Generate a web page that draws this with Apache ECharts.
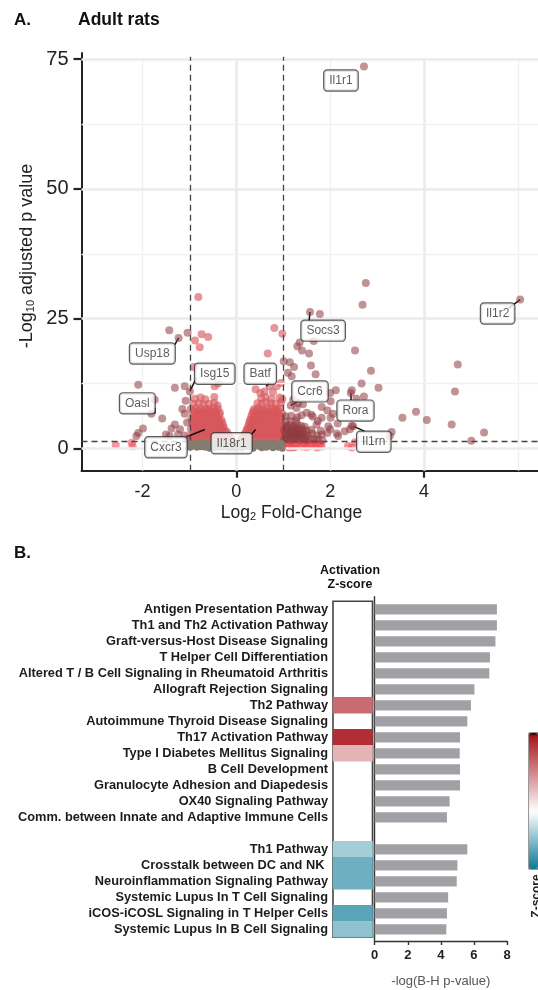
<!DOCTYPE html>
<html><head><meta charset="utf-8">
<style>html,body{margin:0;padding:0;background:#fff}#c{width:538px;height:990px}</style>
<script src="https://cdn.jsdelivr.net/npm/echarts@6/dist/echarts.min.js"></script>
</head><body><div id="c"></div>
<script>
// ---------- Panel A data (log2FC, -log10 p) ----------
const greyPts=[[-0.96,0.3],[-0.9,0.9],[-0.84,0.2],[-0.78,0.7],[-0.72,1.1],[-0.66,0.2],[-0.6,0.6],[-0.54,1.0],[-0.48,0.1],[-0.42,0.5],[-0.36,1.1],[-0.3,0.2],[-0.24,0.7],[-0.18,0.1],[-0.12,1.0],[-0.06,0.4],[0,0.0],[0.06,0.6],[0.12,0.1],[0.18,1.1],[0.24,0.3],[0.3,0.8],[0.36,0.0],[0.42,1.0],[0.48,0.4],[0.54,0.1],[0.6,0.9],[0.66,0.3],[0.72,1.1],[0.78,0.1],[0.84,0.7],[0.9,0.2],[0.96,1.0],[-0.93,0.6],[-0.81,1.1],[-0.69,0.7],[-0.57,0.0],[-0.45,0.9],[-0.33,0.6],[-0.21,1.2],[-0.09,0.1],[0.03,1.1],[0.09,0.4],[0.21,0.6],[0.33,0.3],[0.45,0.8],[0.57,0.5],[0.69,0.7],[0.81,0.4],[0.93,0.5],[0.98,0.0],
[-0.98,0.9],[-0.87,0.5],[-0.75,0.3],[-0.63,1.0],[-0.51,0.5],[-0.39,0.2],[-0.27,1.0],[-0.15,0.6],[-0.03,0.9],[0.15,0.8],[0.27,1.1],[0.39,0.6],[0.51,1.0],[0.63,0.2],[0.75,0.9],[0.87,1.0],[-0.99,0.2],[0.99,0.6]];
const lightPts=[[-2.57,0.65],[-2.21,0.45],[-2.23,1.1],[1.02,0.5],[1.05,1.2],[1.12,0.2],[1.18,0.9],[1.25,0.3],[1.3,1.1],[1.38,0.6],[1.45,0.9],[1.5,0.3],[1.55,1.1],[1.62,0.7],[1.7,0.5],[1.76,0.9],[1.82,0.4],[2.38,0.5],[2.53,1.2],[2.46,0.2],[1.08,0.8],[1.22,0.7],
[1.03,1.0],[1.09,0.4],[1.15,1.2],[1.2,0.2],[1.28,0.8],[1.34,1.2],[1.41,0.4],[1.48,1.1],[1.58,0.5],[1.66,1.0],[1.72,0.2],[1.79,0.7]];
const centerPts=[
[-0.97,1.7],[-0.88,1.9],[-0.79,1.6],[-0.7,1.8],[-0.61,1.7],[-0.52,1.9],[-0.43,1.6],[-0.34,1.8],[-0.25,1.7],[-0.16,1.6],[-0.08,1.5],
[-0.95,2.7],[-0.85,2.6],[-0.76,2.8],[-0.66,2.7],[-0.58,2.9],[-0.48,2.6],[-0.4,2.8],[-0.3,2.7],[-0.21,2.5],[-0.13,2.2],
[-0.97,3.7],[-0.87,3.9],[-0.78,3.6],[-0.69,3.8],[-0.6,3.7],[-0.5,3.9],[-0.41,3.6],[-0.33,3.8],[-0.24,3.4],
[-0.94,4.7],[-0.85,4.6],[-0.75,4.9],[-0.66,4.7],[-0.56,4.8],[-0.47,4.6],[-0.38,4.8],[-0.28,4.4],
[-0.96,5.7],[-0.87,5.9],[-0.77,5.6],[-0.68,5.8],[-0.59,5.7],[-0.5,5.9],[-0.4,5.6],[-0.32,5.5],
[-0.93,6.7],[-0.83,6.6],[-0.73,6.9],[-0.64,6.7],[-0.55,6.8],[-0.45,6.6],[-0.36,6.4],
[-0.97,7.6],[-0.86,7.8],[-0.77,7.5],[-0.66,7.7],[-0.58,7.6],[-0.48,7.8],[-0.39,7.6],
[-0.92,8.6],[-0.8,8.7],[-0.7,8.5],[-0.58,8.6],[-0.47,8.8],
[-0.88,9.6],[-0.76,9.8],[-0.66,9.5],[-0.47,9.9],[-0.81,29.2],[-0.74,22],[-0.6,21.5],[-0.88,20.8],[-0.78,19.5],[-0.91,15.7],[-0.46,12],[-0.39,12.5],
[-0.92,2.2],[-0.82,2.3],[-0.73,2.2],[-0.63,2.3],[-0.54,2.2],[-0.45,2.3],[-0.35,2.2],[-0.26,2.2],[-0.18,2.0],
[-0.91,3.2],[-0.82,3.2],[-0.73,3.3],[-0.64,3.2],[-0.55,3.3],[-0.46,3.2],[-0.37,3.2],[-0.28,3.1],
[-0.9,4.2],[-0.8,4.2],[-0.71,4.3],[-0.61,4.2],[-0.52,4.3],[-0.43,4.2],[-0.34,4.2],
[-0.91,5.2],[-0.81,5.2],[-0.71,5.3],[-0.63,5.2],[-0.54,5.3],[-0.44,5.2],[-0.36,5.0],
[-0.89,6.2],[-0.79,6.2],[-0.7,6.3],[-0.6,6.2],[-0.5,6.3],[-0.41,6.1],
[-0.9,7.2],[-0.8,7.2],[-0.7,7.1],[-0.61,7.2],[-0.52,7.2],[-0.43,7.1],
[-0.05,1.6],[-0.12,1.9],[-0.16,2.6],[-0.2,3.2],[-0.27,4.0],[-0.3,5.0],[-0.35,6.9],[-0.4,8.3],
[0.1,1.7],[0.18,1.6],[0.27,1.8],[0.36,1.7],[0.45,1.9],[0.54,1.6],[0.63,1.8],[0.72,1.7],[0.81,1.9],[0.9,1.6],[0.98,1.8],
[0.17,2.7],[0.26,2.6],[0.35,2.8],[0.44,2.7],[0.53,2.9],[0.62,2.6],[0.71,2.8],[0.8,2.7],[0.89,2.6],[0.97,2.8],
[0.24,3.7],[0.32,3.8],[0.41,3.6],[0.5,3.8],[0.6,3.7],[0.69,3.9],[0.78,3.6],[0.87,3.8],[0.96,3.7],
[0.27,4.7],[0.36,4.6],[0.45,4.8],[0.55,4.7],[0.64,4.9],[0.73,4.6],[0.82,4.8],[0.91,4.7],[0.99,4.6],
[0.3,5.6],[0.39,5.8],[0.48,5.7],[0.57,5.6],[0.66,5.8],[0.76,5.7],[0.85,5.9],[0.94,5.6],
[0.34,6.7],[0.43,6.6],[0.52,6.8],[0.61,6.7],[0.7,6.9],[0.8,6.6],[0.89,6.8],[0.98,6.7],
[0.38,7.6],[0.47,7.8],[0.56,7.6],[0.66,7.7],[0.75,7.9],[0.84,7.6],[0.93,7.7],
[0.45,8.7],[0.54,8.6],[0.63,8.9],[0.73,8.7],[0.84,8.6],[0.95,8.8],
[0.53,9.7],[0.62,9.9],[0.75,9.6],[0.92,9.8],[0.98,9.5],
[0.41,11.4],[0.71,12],[0.67,18.3],[0.81,23.2],[0.98,22.1],[0.86,12],[0.95,12.6],[0.78,10.9],[0.6,11],[0.51,10.7],
[0.22,2.2],[0.31,2.2],[0.4,2.3],[0.49,2.2],[0.58,2.3],[0.67,2.2],[0.76,2.3],[0.85,2.2],[0.94,2.2],
[0.28,3.2],[0.37,3.2],[0.46,3.3],[0.55,3.2],[0.65,3.3],[0.74,3.2],[0.83,3.2],[0.92,3.3],
[0.32,4.2],[0.41,4.2],[0.5,4.3],[0.6,4.2],[0.69,4.3],[0.78,4.2],[0.87,4.2],[0.96,4.3],
[0.35,5.2],[0.44,5.2],[0.53,5.3],[0.62,5.2],[0.71,5.3],[0.8,5.2],[0.9,5.2],
[0.39,6.2],[0.48,6.2],[0.57,6.3],[0.66,6.2],[0.75,6.3],[0.85,6.2],[0.94,6.2],
[0.43,7.2],[0.52,7.2],[0.61,7.3],[0.71,7.2],[0.8,7.2],[0.89,7.3],
[0.05,1.5],[0.12,2.0],[0.2,3.1],[0.22,3.6],[0.25,4.2],[0.28,5.2],[0.32,6.2],[0.36,7.2]];
const sigPts=[[2.72,73.6],[2.76,31.9],[2.69,27.7],[6.05,28.7],[1.57,26.3],[1.78,25.9],[1.35,20.4],[1.3,19.7],[1.4,18.9],[1.55,18.3],[1.65,20.7],[2.53,18.9],[4.72,16.2],[1.59,16],[1.01,16.8],[1.14,16.6],[1.23,15.7],[1.1,14.6],[1.18,13.9],[1.69,14.3],[2.87,15],[2.67,12.5],[3.03,11.7],[2.46,11.2],[2.12,11.2],[2,10.7],[2.01,9.1],[4.66,11],[2.72,10],[2.56,9.6],[3.83,7.1],[3.54,5.9],[4.06,5.5],[4.59,4.6],[5.28,3.1],[5.01,1.5],[3.31,3.2],[3.27,2.4],[1.82,8],[1.94,7.3],[2.06,6.7],[2.01,5.9],[2.16,4.8],[1.82,5.9],[1.6,6.5],[1.5,6.9],[1.39,6.4],[1.63,6.1],[1.74,5.3],[1.71,4.6],[1.96,4.3],[2,3.7],[1.94,3],[2.14,2.9],[2.17,2.4],[2.31,3.3],[2.42,3.7],[2.46,4.4],[2.49,4.3],[1.42,8.5],[1.32,8.7],[1.21,9.4],[1.28,7.8],[1.16,8.3],[2.44,10.7],
[1.02,1.7],[1.1,1.8],[1.18,1.6],[1.26,1.9],[1.34,1.7],[1.42,1.8],[1.5,1.6],[1.58,1.9],[1.66,1.7],[1.74,1.8],[1.84,1.6],
[1.04,2.6],[1.12,2.8],[1.2,2.5],[1.28,2.7],[1.36,2.6],[1.44,2.8],[1.52,2.6],[1.62,2.9],[1.72,2.5],[1.82,2.7],
[1.02,3.5],[1.1,3.7],[1.18,3.4],[1.26,3.6],[1.34,3.5],[1.42,3.7],[1.5,3.4],[1.6,3.6],[1.8,3.4],
[1.06,4.4],[1.14,4.5],[1.22,4.3],[1.3,4.6],[1.38,4.4],[1.46,4.2],[1.05,5.3],[1.16,5.2],[1.27,5.4],[1.05,6.2],[1.17,6.3],[1.3,6.0],
[1.07,2.2],[1.15,2.2],[1.23,2.3],[1.31,2.2],[1.39,2.2],[1.47,2.3],[1.06,3.0],[1.15,3.1],[1.24,3.0],[1.32,3.1],[1.4,3.0],[1.08,4.0],[1.2,3.9],[1.3,4.0],
[-1.43,22.8],[-1.23,21.3],[-1.04,22.3],[-2.09,12.3],[-1.31,11.7],[-1.1,12],[-0.99,11],[-1.74,9.4],[-1.81,6.7],[-1.58,5.8],[-1.08,9.2],[-1.15,7.6],[-1.1,6.7],[-1.99,3.85],[-2.09,3],[-2.13,2.4],[-1.31,4.6],[-1.38,3.85],[-1.2,3.7],[-1.05,5],[-1.5,2.7],[-1.42,2.4],[-1.24,2.7],[-1.1,2.5],[-1.04,1.9]];

// gene callouts: name, box centre, connector start, connector end
const geneNames=['Il1r1','Il1r2','Socs3','Usp18','Isg15','Batf','Ccr6','Rora','Il1rn','Oasl','Cxcr3','Il18r1'];
const geneBoxX=[2.23,5.57,1.85,-1.79,-0.46,0.51,1.57,2.54,2.93,-2.11,-1.5,-0.1];
const geneBoxY=[70.9,26,22.7,18.3,14.4,14.4,11,7.3,1.3,8.7,0.25,1];
const lineFrom=[null,[5.8,27],[1.55,24.5],[-1.31,20],[-0.85,13.6],[0.7,12.7],[1.32,9.1],[2.44,9.3],[2.74,3.3],[-1.74,7.8],[-1.06,2.25],[0.32,2.7]];
const lineTo=[null,[6.05,28.7],[1.57,26.3],[-1.23,21.3],[-0.99,11],[0.64,12],[1.16,8.3],[2.44,10.7],[2.49,4.3],[-1.74,6.7],[-0.67,3.66],[0.41,3.66]];

const xTickLabels=[-2,0,2,4], xTicks=[0,4], yTicks=[0,25,50,75];
const gridThickX=[0,4], gridThinX=[-2,2,6], gridThickY=[0,25,50,75], gridThinY=[12.5,37.5,62.5];
const foldCuts=[-0.99,1.0], pCut=1.35;

// ---------- Panel B data ----------
const pathways=['Antigen Presentation Pathway','Th1 and Th2 Activation Pathway','Graft-versus-Host Disease Signaling','T Helper Cell Differentiation','Altered T / B Cell Signaling in Rheumatoid Arthritis','Allograft Rejection Signaling','Th2 Pathway','Autoimmune Thyroid Disease Signaling','Th17 Activation Pathway','Type I Diabetes Mellitus Signaling','B Cell Development','Granulocyte Adhesion and Diapedesis','OX40 Signaling Pathway','Comm. between Innate and Adaptive Immune Cells','','Th1 Pathway','Crosstalk between DC and NK\u00a0','Neuroinflammation Signaling Pathway','Systemic Lupus In T Cell Signaling','iCOS-iCOSL Signaling in T Helper Cells','Systemic Lupus In B Cell Signaling'];
const logP=[7.39,7.39,7.3,6.97,6.93,6.03,5.82,5.6,5.16,5.14,5.16,5.16,4.53,4.37,null,5.6,5.0,4.96,4.44,4.37,4.33];
const zScores=[null,null,null,null,null,null,1.55,null,2.2,0.8,null,null,null,null,null,-0.7,-1.1,-1.1,null,-1.25,-0.85];
const zMin=-1.85, zMax=2.55, zTicks=[-1,0,1,2];

const font='"Liberation Sans",Arial,sans-serif';
const stops=[];
for(let i=0;i<=44;i++){const v=zMin+(zMax-zMin)*i/44;
  stops.push(v<0?echarts.color.lerp(v/zMin,['#ffffff','#0b7a96']):echarts.color.lerp(v/zMax,['#ffffff','#a50d15']));}

const pts=(name,data,color,op,z,size)=>({name,type:'scatter',xAxisIndex:0,yAxisIndex:0,data,symbolSize:size||8,z,itemStyle:{color,opacity:op},silent:true});
const gridLine=(w,c)=>({width:w,color:c,type:'solid'});
const guideLines=[
 ...gridThickX.map(v=>[{coord:[v,-4.28],lineStyle:gridLine(2.6,'#ebebeb')},{coord:[v,75]}]),
 ...gridThinX.map(v=>[{coord:[v,-4.28],lineStyle:gridLine(1.4,'#f1f1f1')},{coord:[v,75]}]),
 ...gridThickY.map(v=>[{coord:[-3.3,v],lineStyle:gridLine(2.6,'#ebebeb')},{coord:[6.43,v]}]),
 ...gridThinY.map(v=>[{coord:[-3.3,v],lineStyle:gridLine(1.4,'#f1f1f1')},{coord:[6.43,v]}])];
const dash=[
 ...foldCuts.map(v=>[{coord:[v,-4.28]},{coord:[v,75.5]}]),
 [{coord:[-3.3,pCut]},{coord:[6.43,pCut]}]];
const txt=(text,x,y,size,extra)=>({type:'text',x,y,silent:true,style:Object.assign({text,font:`bold ${size}px ${font}`,fill:'#111',align:'left',verticalAlign:'middle'},extra||{})});

const option={
 animation:false,backgroundColor:'#fff',
 grid:[
  {left:81.5,right:0,top:53,height:417.7},
  {left:333,width:39.5,top:601.3,height:336,show:true,borderColor:'#444',borderWidth:1.6,backgroundColor:'transparent'},
  {left:374.7,width:132.3,top:601.3,height:336},
  {left:374.7,width:132.3,top:596.7,height:344.3},
  {left:529,width:9,top:733,height:136,show:true,borderColor:'#333',borderWidth:1,backgroundColor:'transparent'}
 ],
 xAxis:[
  {gridIndex:0,type:'value',min:-3.3,max:6.43,splitLine:{show:false},
   axisLine:{onZero:false,lineStyle:{color:'#222',width:2}},
   axisTick:{length:7,lineStyle:{color:'#222',width:2.2},customValues:xTicks},
   axisLabel:{customValues:xTickLabels,fontFamily:font,fontSize:18,color:'#222',margin:12,hideOverlap:false}},
  {gridIndex:1,type:'category',data:['z'],show:false},
  {gridIndex:2,type:'value',min:0,max:8,show:false},
  {gridIndex:3,type:'value',min:0,max:8,interval:2,splitLine:{show:false},
   axisLine:{onZero:false,lineStyle:{color:'#333',width:1.4}},
   axisTick:{length:4,lineStyle:{color:'#333',width:1.4}},
   axisLabel:{fontFamily:font,fontSize:13,fontWeight:'bold',color:'#222',margin:8},
   name:'-log(B-H p-value)',nameLocation:'middle',nameGap:34,nameTextStyle:{fontFamily:font,fontSize:13,color:'#555'}},
  {gridIndex:4,type:'value',min:0,max:1,show:false}
 ],
 yAxis:[
  {gridIndex:0,type:'value',min:-4.28,max:76.2,splitLine:{show:false},
   axisLine:{onZero:false,lineStyle:{color:'#222',width:2}},
   axisTick:{length:8,lineStyle:{color:'#222',width:2.2},customValues:yTicks},
   axisLabel:{customValues:yTicks,fontFamily:font,fontSize:20,color:'#222',margin:13,hideOverlap:false}},
  {gridIndex:1,type:'category',inverse:true,data:pathways,axisLine:{show:false},axisTick:{show:false},
   axisLabel:{interval:0,fontFamily:font,fontSize:12.8,fontWeight:'bold',color:'#1c1c1c',margin:5}},
  {gridIndex:2,type:'category',inverse:true,data:pathways,show:false},
  {gridIndex:3,type:'value',min:0,max:1,axisLine:{onZero:false,show:true,lineStyle:{color:'#333',width:1.4}},axisTick:{show:false},axisLabel:{show:false},splitLine:{show:false}},
  {gridIndex:4,type:'value',min:zMin,max:zMax,splitLine:{show:false},axisLine:{show:false},
   axisTick:{inside:true,length:3,customValues:zTicks,lineStyle:{color:'#222',width:1.2}},axisLabel:{show:false}}
 ],
 visualMap:{type:'continuous',seriesIndex:6,dimension:2,min:zMin,max:zMax,left:529,top:733,itemWidth:9,itemHeight:136,padding:0,calculable:false,showLabel:false,text:null,inRange:{color:stops},z:1},
 series:[
  {name:'guides',type:'scatter',data:[],z:1,silent:true,markLine:{silent:true,symbol:'none',label:{show:false},animation:false,data:guideLines}},
  pts('not significant',greyPts,'#857c70',1,6,6.5),
  pts('low significance',lightPts,'#f2505a',0.6,3),
  pts('within fold cut',centerPts,'#d6565b',0.62,4),
  pts('beyond fold cut',sigPts,'#8f3a40',0.55,5),
  {name:'cuts',type:'scatter',data:[],z:8,silent:true,markLine:{silent:true,symbol:'none',label:{show:false},animation:false,lineStyle:{color:'#444',width:1.3,type:[6,4]},data:dash}},
  {name:'z',type:'heatmap',xAxisIndex:1,yAxisIndex:1,data:zScores.map((v,i)=>v===null?null:[0,i,v]).filter(Boolean),silent:true,z:1},
  {name:'logP',type:'bar',xAxisIndex:2,yAxisIndex:2,data:logP,barWidth:10.3,itemStyle:{color:'#a1a1a5'},silent:true},
  {name:'connectors',type:'scatter',data:[],z:9,silent:true,markLine:{silent:true,symbol:'none',label:{show:false},animation:false,lineStyle:{color:'#111',width:1.5,type:'solid'},
    data:geneNames.map((g,i)=>lineFrom[i]?[{coord:lineFrom[i]},{coord:lineTo[i]}]:null).filter(Boolean)}},
  {name:'genes',type:'scatter',z:10,silent:true,symbolSize:0,
   data:geneNames.map((g,i)=>({name:g,value:[geneBoxX[i],geneBoxY[i]]})),
   label:{show:true,position:'inside',formatter:'{b}',fontFamily:font,fontSize:12,color:'#333',backgroundColor:'#fff',borderColor:'#333',borderWidth:1.2,borderRadius:3,padding:[4,5,4,5]},
   labelLayout:{hideOverlap:false}}
 ],
 graphic:[
  txt('A.',14,20,17),txt('Adult rats',78,20,17.5),txt('B.',14,553,17),
  txt('Activation',350,571,12.4,{align:'center'}),txt('Z-score',350,585,12.4,{align:'center'}),
  {type:'text',x:27,y:256,rotation:Math.PI/2,silent:true,style:{align:'center',verticalAlign:'middle',
    text:'{a|-Log}{s|10}{a| adjusted p value}',rich:{a:{font:`18px ${font}`,fill:'#222'},s:{font:`11px ${font}`,fill:'#222',padding:[8,0,0,0]}}}},
  {type:'text',x:291.5,y:513,silent:true,style:{align:'center',verticalAlign:'middle',
    text:'{a|Log}{s|2}{a| Fold-Change}',rich:{a:{font:`17.5px ${font}`,fill:'#222'},s:{font:`11px ${font}`,fill:'#222',padding:[8,0,0,0]}}}},
  {type:'text',x:537,y:896,rotation:Math.PI/2,silent:true,style:{text:'Z-score',align:'center',verticalAlign:'middle',font:`bold 12px ${font}`,fill:'#222'}}
 ]
};
const chart=echarts.init(document.getElementById('c'),null,{renderer:'canvas',width:538,height:990});
chart.setOption(option);
</script></body></html>
